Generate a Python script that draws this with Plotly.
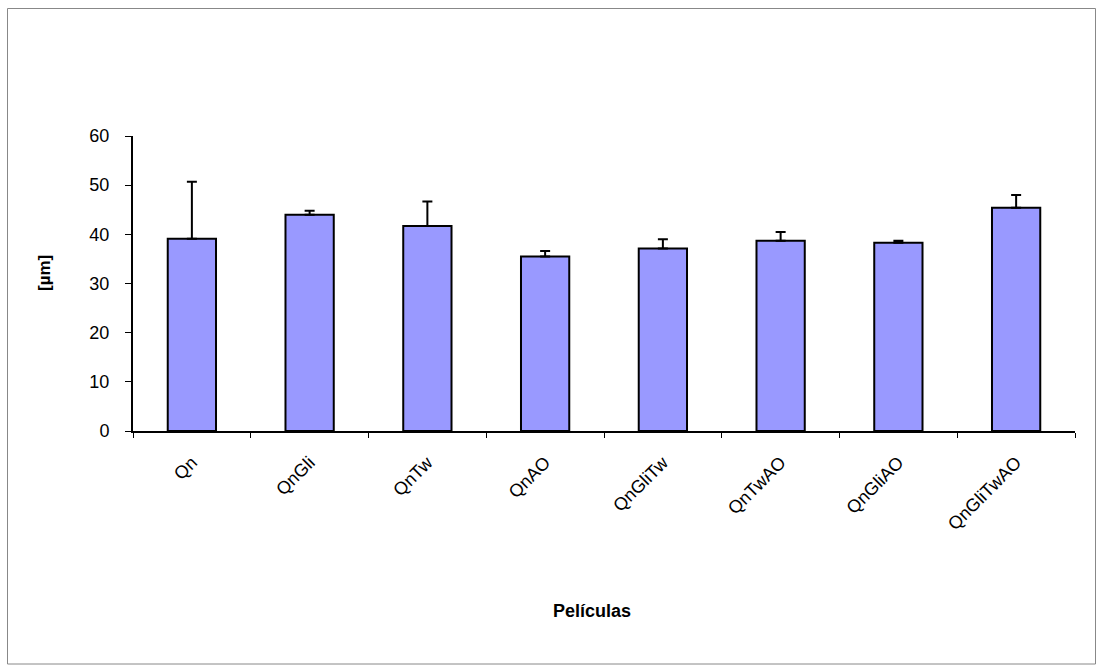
import plotly.graph_objects as go

categories = ["Qn", "QnGli", "QnTw", "QnAO", "QnGliTw", "QnTwAO", "QnGliAO", "QnGliTwAO"]
values = [39.1, 44.0, 41.7, 35.5, 37.1, 38.7, 38.3, 45.4]
errors = [11.6, 0.8, 5.0, 1.1, 1.9, 1.8, 0.4, 2.6]
y_ticks = [0, 10, 20, 30, 40, 50, 60]

FONT = "Liberation Sans, Arial, sans-serif"

fig = go.Figure()
fig.add_trace(go.Bar(
    x=categories,
    y=values,
    marker=dict(color="#9999FF", line=dict(color="#000000", width=2)),
    error_y=dict(type="data", symmetric=False, array=errors,
                 arrayminus=[0] * len(errors),
                 color="#000000", thickness=2, width=5),
    width=0.41,
))

L, R, T, B = 133, 25, 136, 236
PW = 1100 - L - R
PH = 667 - T - B

def px_x(px):
    return (px - L) / PW

def px_y(py):
    return (667 - B - py) / PH

fig.update_layout(
    width=1100, height=667,
    margin=dict(l=L, r=R, t=T, b=B),
    paper_bgcolor="white", plot_bgcolor="white",
    showlegend=False,
    font=dict(family=FONT, color="#000000"),
    xaxis=dict(
        type="category",
        showline=True, linecolor="#000000", linewidth=2,
        ticks="outside", tickson="boundaries", ticklen=5, tickwidth=1, tickcolor="#000000",
        tickangle=-45,
        tickfont=dict(size=18, family=FONT),
        ticklabelstandoff=12,
        showgrid=False, zeroline=False,
    ),
    yaxis=dict(
        range=[0, 60],
        tickvals=y_ticks,
        showline=True, linecolor="#000000", linewidth=2,
        ticks="outside", ticklen=6, tickwidth=1, tickcolor="#000000",
        tickfont=dict(size=18, family=FONT),
        ticklabelstandoff=12,
        showgrid=False, zeroline=False,
    ),
    annotations=[
        dict(text="<b>[µm]</b>", xref="paper", yref="paper",
             x=px_x(44), y=px_y(273), textangle=-90, showarrow=False,
             font=dict(size=17, family=FONT), xanchor="center", yanchor="middle"),
        dict(text="<b>Películas</b>", xref="paper", yref="paper",
             x=px_x(592), y=px_y(611), showarrow=False,
             font=dict(size=18, family=FONT), xanchor="center", yanchor="middle"),
    ],
    shapes=[
        dict(type="rect", xref="paper", yref="paper",
             x0=px_x(7.5), x1=px_x(1095.5), y0=px_y(664), y1=px_y(8.5),
             line=dict(color="#888888", width=1), fillcolor="rgba(0,0,0,0)", layer="below"),
    ],
)

fig.write_html("out.html", config={"displayModeBar": False},
               post_script="document.body.style.margin='0';document.body.style.padding='0';")
